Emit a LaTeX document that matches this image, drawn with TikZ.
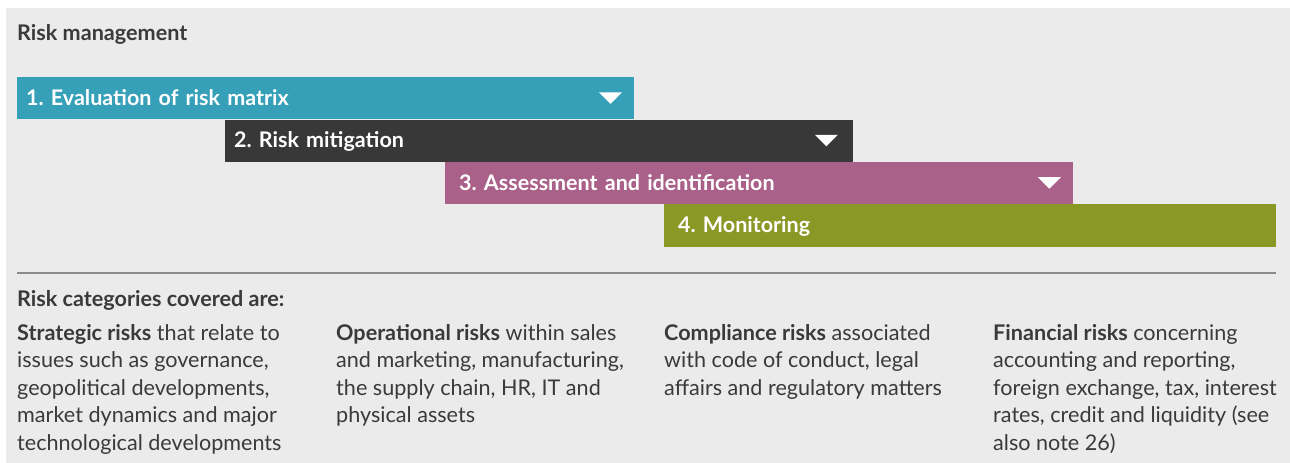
\documentclass[tikz,border=0pt]{standalone}
\usepackage{fontspec}
\setmainfont{Lato}
\frenchspacing
\usetikzlibrary{positioning, calc}

\definecolor{rmback}{RGB}{235, 235, 235}
\definecolor{rmteal}{RGB}{53, 160, 184}
\definecolor{rmdark}{RGB}{56, 56, 56}
\definecolor{rmplum}{RGB}{170, 97, 137}
\definecolor{rmolive}{RGB}{138, 152, 38}
\definecolor{rmtext}{RGB}{58, 58, 58}
\definecolor{rmrule}{RGB}{140, 140, 140}

\tikzset{
  phase/.style={anchor=north west, inner xsep=9pt, inner ysep=0pt,
    minimum height=42pt, text width=#1, align=left, text=white,
    text height=16pt, text depth=2pt,
    font=\fontsize{21.5}{26}\selectfont\bfseries},
  heading/.style={anchor=base west, inner sep=0pt, text=rmtext,
    font=\fontsize{21.6}{26}\selectfont\bfseries},
  riskcol/.style={anchor=base west, inner sep=0pt, align=left, text=rmtext,
    font=\fontsize{21.6}{27.5}\selectfont}
}

% white drop-down mark at the right end of a phase bar
\newcommand{\dropmark}[2]{%
  \fill[white] ($(#1.east)+(-#2-11.5,-5.8)$) -- ++(23,0)
    -- ++(-11.5,11.5) -- cycle;}

\begin{document}
\begin{tikzpicture}[x=1pt, y=-1pt]
  \useasboundingbox (0,0) rectangle (1290,463);
  \fill[rmback] (6,8) rectangle (1290,463);

  \node[heading] (title) at (17,40.5) {Risk management};

  % the four phases, each one step further along
  \node[phase=599pt, fill=rmteal] (evaluation) at (17,77)
    {1. Evaluation of risk matrix};
  \node[phase=610pt, fill=rmdark, below right=0pt and 208pt of evaluation.south west]
    (mitigation) {2. Risk mitigation};
  \node[phase=600pt, fill=rmplum, inner xsep=14pt,
        below right=0pt and 220pt of mitigation.south west]
    (assessment) {3. Assessment and identification};
  \node[phase=584pt, fill=rmolive, inner xsep=14pt, minimum height=43pt,
        below right=0pt and 219pt of assessment.south west]
    (monitoring) {4. Monitoring};

  \dropmark{evaluation}{24}
  \dropmark{mitigation}{27}
  \dropmark{assessment}{24}

  \draw[rmrule, line width=1.3pt] (17,273) -- (monitoring.east |- 0,273);

  \node[heading] (categories) at (17,306.5) {Risk categories covered are:};

  % base anchors sit on the last line of each column
  \node[riskcol] (strategic) at (17,450)
    {\textbf{Strategic risks} that relate to\\
     issues such as governance,\\
     geopolitical developments,\\
     market dynamics and major\\
     technological developments};
  \node[riskcol] (operational) at (336,422.5)
    {\textbf{Operational risks} within sales\\
     and marketing, manufacturing,\\
     the supply chain, HR, IT and\\
     physical assets};
  \node[riskcol] (compliance) at (664,395)
    {\textbf{Compliance risks} associated\\
     with code of conduct, legal\\
     affairs and regulatory matters};
  \node[riskcol] (financial) at (993,450)
    {\textbf{Financial risks} concerning\\
     accounting and reporting,\\
     foreign exchange, tax, interest\\
     rates, credit and liquidity (see\\
     also note 26)};
\end{tikzpicture}
\end{document}
